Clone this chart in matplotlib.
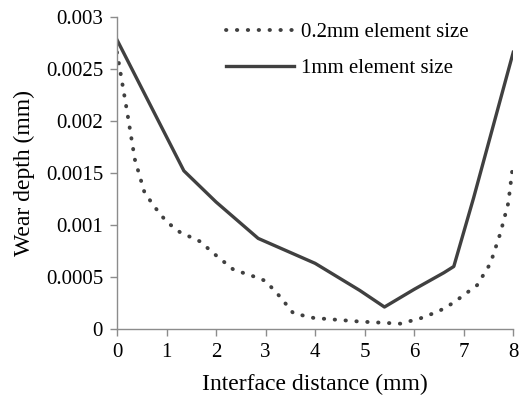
import numpy as np
import matplotlib.pyplot as plt

plt.rcParams['font.family'] = ['Liberation Serif', 'DejaVu Serif']

# 1mm element size (solid)
x_coarse = [0, 1.35, 2.0, 2.85, 4.0, 4.9, 5.4, 6.0, 6.6, 6.8, 7.2, 8.0]
wear_coarse = [0.00278, 0.00152, 0.00122, 0.00087, 0.00063, 0.00037, 0.00021, 0.00038, 0.00054, 0.0006, 0.00126, 0.00266]

# 0.2mm element size (dotted)
x_fine = [0, 0.2, 0.36, 0.55, 0.73, 1.0, 1.27, 1.68, 1.94, 2.35, 2.85, 3.0, 3.29, 3.56, 3.97,
          4.9, 5.72, 6.12, 6.5, 6.79, 7.27, 7.54, 7.74, 7.9, 8.0]
wear_fine = [0.00266, 0.0021, 0.00163, 0.00132, 0.00119, 0.00103, 0.00093, 0.00084, 0.00073, 0.00057, 0.00049,
             0.00046, 0.00031, 0.00015, 0.000105, 0.00007, 0.00005, 0.0001, 0.00017, 0.00025, 0.00042, 0.00063,
             0.00092, 0.00121, 0.0016]

line_color = '#404040'
spine_color = '#8c8c8c'

fig = plt.figure(figsize=(5.2, 4.03), dpi=100)
ax = fig.add_axes([0.225, 0.184, 0.762, 0.774])

ax.plot(x_fine, wear_fine, color=line_color, lw=2.8, linestyle=(0, (0.1, 2.7)),
        dash_capstyle='round', label='0.2mm element size')
ax.plot(x_coarse, wear_coarse, color=line_color, lw=2.4, label='1mm element size')

ax.set_xlim(0, 8)
ax.set_ylim(0, 0.003)
ax.set_xticks(np.arange(0, 9, 1))
ax.set_yticks([0, 0.0005, 0.001, 0.0015, 0.002, 0.0025, 0.003])
ax.set_yticklabels(['0', '0.0005', '0.001', '0.0015', '0.002', '0.0025', '0.003'])

for s in ['top', 'right']:
    ax.spines[s].set_visible(False)
for s in ['left', 'bottom']:
    ax.spines[s].set_color(spine_color)
    ax.spines[s].set_linewidth(1.0)
ax.tick_params(direction='out', length=5, width=1.0, color=spine_color, labelsize=15, pad=5)

ax.set_xlabel('Interface distance (mm)', fontsize=17, labelpad=9)
ax.set_ylabel('Wear depth (mm)', fontsize=17, labelpad=8)

ax.legend(loc='upper left', bbox_to_anchor=(0.41, 0.975), bbox_transform=fig.transFigure,
          frameon=False, fontsize=15, handlelength=3.3, labelspacing=0.8, handletextpad=0.3,
          borderaxespad=0.2)

fig.savefig('out.png', dpi=100)
